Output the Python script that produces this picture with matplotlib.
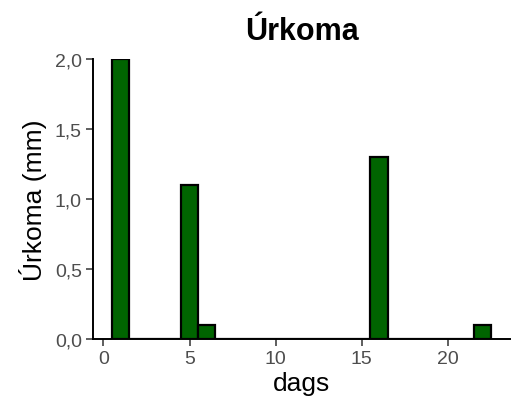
import numpy as np
import matplotlib.pyplot as plt

plt.rcParams['font.family'] = ['Liberation Sans', 'DejaVu Sans']

days = list(range(1, 23))
rain = [2.0, 0, 0, 0, 1.1, 0.1, 0, 0, 0, 0, 0, 0, 0, 0, 0, 1.3, 0, 0, 0, 0, 0, 0.1]
x_ticks = [0, 5, 10, 15, 20]
y_ticks = [0.0, 0.5, 1.0, 1.5, 2.0]

fig = plt.figure(figsize=(5.23, 4.10), dpi=100)
ax = fig.add_axes([0.178, 0.171, 0.797, 0.683])

ax.bar(days, rain, width=1.0, color='#006400', edgecolor='black', linewidth=1.6, zorder=3)

ax.set_xlim(-0.6, 23.6)
ax.set_ylim(0, 2.0)
ax.set_xticks(x_ticks)
ax.set_yticks(y_ticks)
ax.set_yticklabels([f'{v:.1f}'.replace('.', ',') for v in y_ticks])

for side in ['top', 'right']:
    ax.spines[side].set_visible(False)
for side in ['left', 'bottom']:
    ax.spines[side].set_linewidth(1.4)
    ax.spines[side].set_zorder(4)
ax.tick_params(colors='#333333', labelcolor='#4D4D4D', labelsize=14, length=5, width=1.1, pad=3)

ax.set_xlabel('dags', fontsize=19, labelpad=3)
ax.set_ylabel('Úrkoma (mm)', fontsize=19, labelpad=6)
ax.set_title('Úrkoma', fontsize=22, fontweight='bold', pad=14)

fig.savefig('out.png', dpi=100)
